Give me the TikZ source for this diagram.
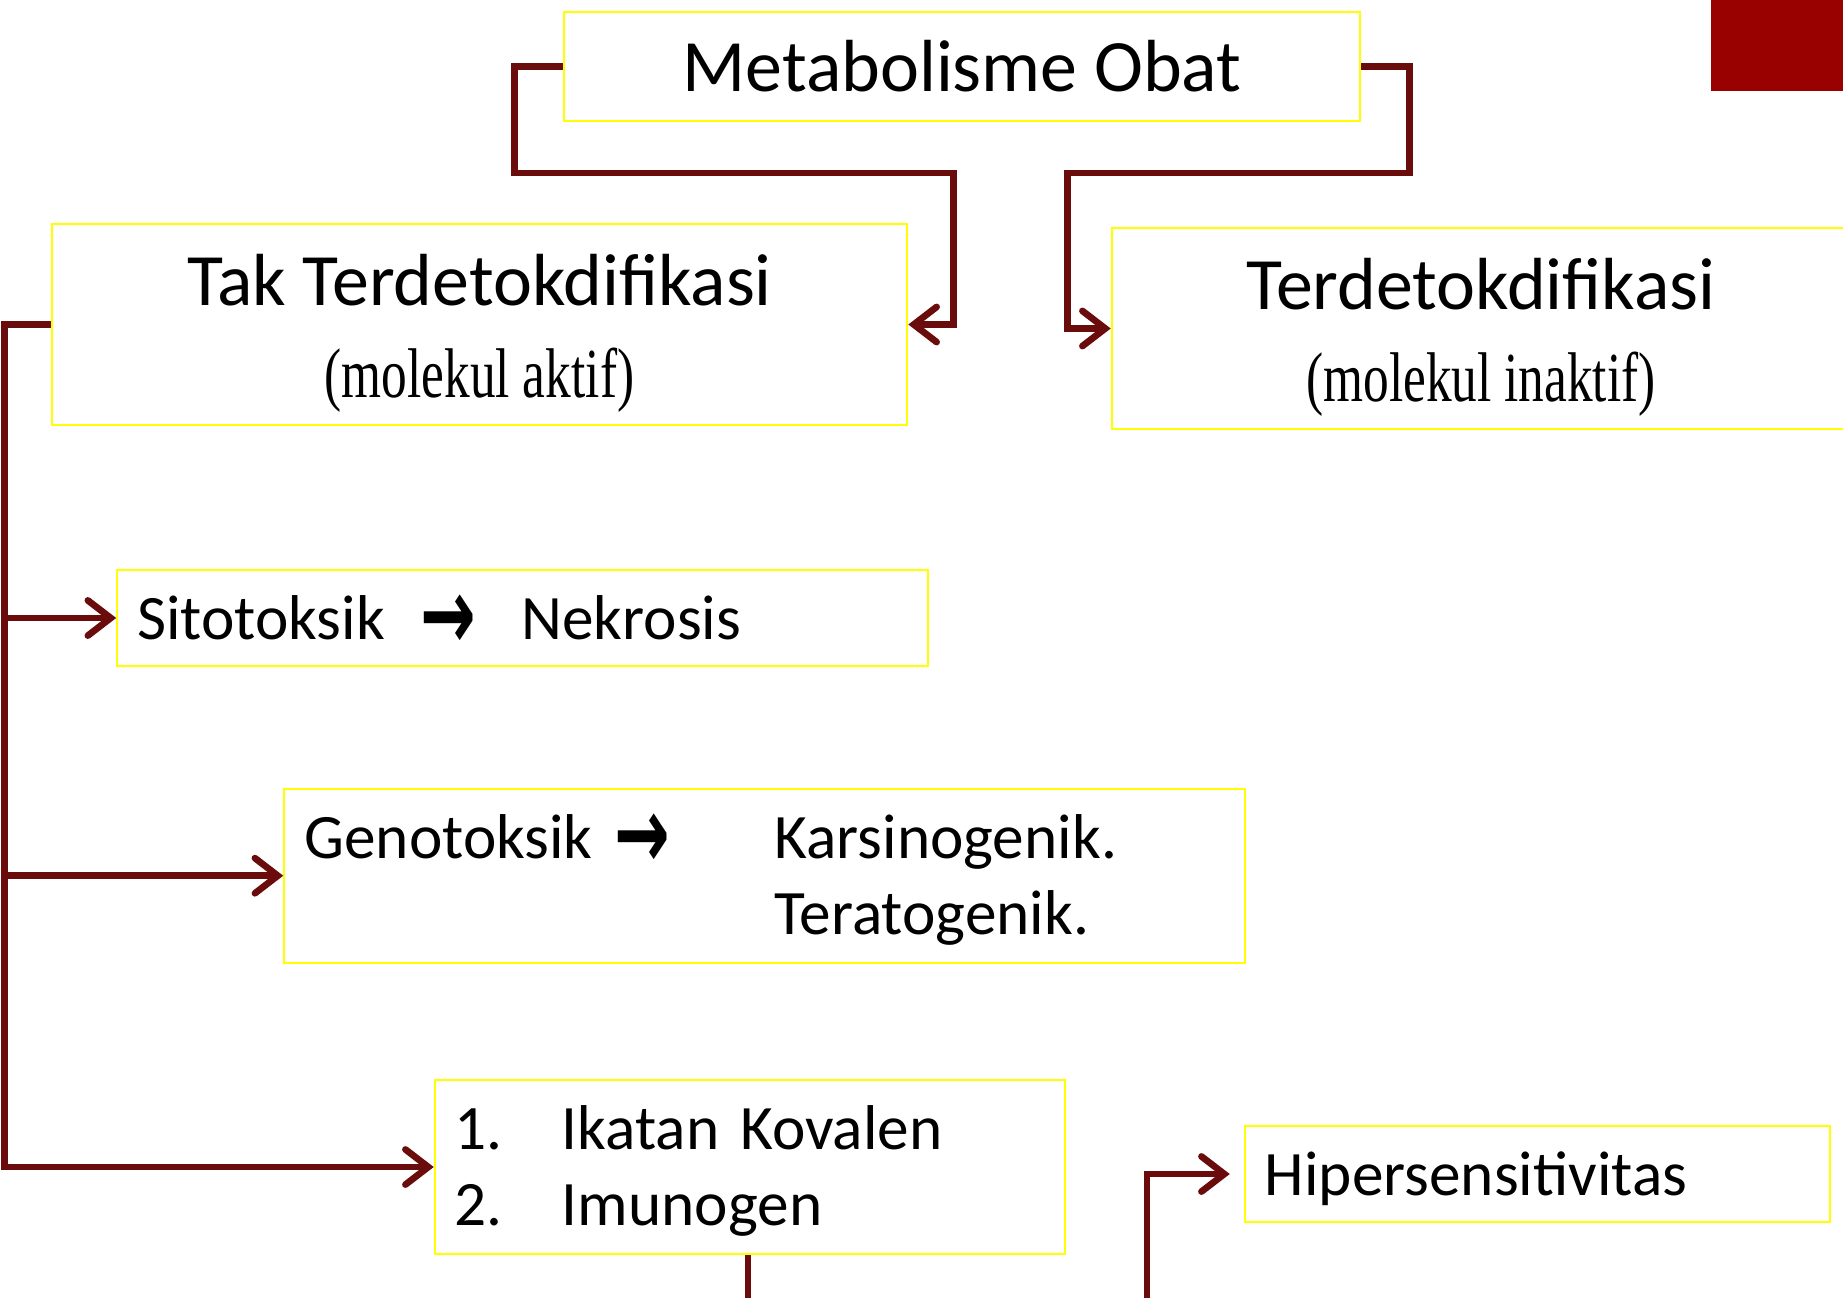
\documentclass[tikz,border=0pt]{standalone}
\usepackage{fontspec}
\usepackage{graphicx}
\setmainfont{Carlito}
\newfontfamily\condserif{Liberation Serif}
\newfontfamily\arrowfont{DejaVu Sans}
\usetikzlibrary{arrows.meta}
\usetikzlibrary{calc}
\definecolor{linkred}{RGB}{107,12,12}
\definecolor{cornerred}{RGB}{153,0,0}
\definecolor{boxyellow}{RGB}{255,255,0}
\newcommand{\subline}[1]{{\condserif\fontsize{20}{20}\selectfont\scalebox{0.73}[1]{#1}}}
\newcommand{\txtarrow}{{\arrowfont\bfseries\raisebox{-2.8pt}{\scalebox{1.05}[1.6]{→}}}}
% struts that set where a text block sits in its box
\newcommand{\tophold}[1]{\rule{0pt}{#1}}
\newcommand{\bothold}[1]{\rule[-#1]{0pt}{#1}}

\begin{document}
\begin{tikzpicture}[x=0.01cm,y=-0.01cm,
    box/.style={draw=boxyellow, line width=0.6pt, fill=white, inner sep=0pt},
    bigtext/.style={font=\fontsize{21}{26}\selectfont, align=center},
    listtext/.style={font=\fontsize{18}{21.6}\selectfont, align=left, inner xsep=0.2cm},
    link/.style={draw=linkred, line width=1.9pt},
    tip/.style={link, -{Straight Barb[length=6.5pt,width=10pt,line cap=round]}}]
        \newcommand{\figmetabspinedx}{46}
        \newcommand{\figmetabstubdx}{48}
        \newcommand{\figmetabdropdy}{106.5}
        \clip (0,0) rectangle (1843,1297);
        \fill[white] (0,0) rectangle (1843,1297);
        \fill[cornerred] (1711,0) rectangle (1843,91);
        % upper row
        \node[box, bigtext, minimum width=7.96cm, minimum height=1.09cm] (metab) at (962,66.5) {Metabolisme Obat};
        \node[box, bigtext, minimum width=8.55cm, minimum height=2.01cm] (tak) at (479.5,324.5) {\tophold{21.4pt}Tak Terdetokdifikasi\\ \subline{(molekul aktif)}\bothold{6pt}};
        \node[box, bigtext, minimum width=7.38cm, minimum height=2.01cm] (terd) at (1481,328.5) {\tophold{21.4pt}Terdetokdifikasi\\ \subline{(molekul inaktif)}\bothold{6pt}};
        % effects of the active molecule
        \node[box, listtext, minimum height=0.96cm, text width=7.7cm] (sito) at (522.5,618) {\tophold{17.4pt}\makebox[3.84cm][l]{Sitotoksik\hspace{0.35cm}\txtarrow}Nekrosis\bothold{5pt}};
        \node[box, listtext, minimum height=1.74cm, text width=9.2cm] (geno) at (764.6,875.7) {\tophold{17.8pt}\makebox[4.7cm][l]{Genotoksik\hspace{0.22cm}\txtarrow}Karsinogenik.\\ \hspace*{4.7cm}Teratogenik.\bothold{6pt}};
        \node[box, listtext, minimum height=1.74cm, text width=5.9cm] (ikatan) at (750,1167) {\tophold{17.8pt}\makebox[1.07cm][l]{1.}Ikatan Kovalen\\ \makebox[1.07cm][l]{2.}Imunogen\bothold{6pt}};
        \node[box, listtext, minimum height=0.96cm, text width=5.45cm] (hiper) at (1537.5,1174) {\tophold{17.4pt}Hipersensitivitas\bothold{5pt}};
        % connectors
        \draw[tip] (metab.west) -- ++(-\figmetabstubdx,0) |- ++(439,\figmetabdropdy) |- (tak.east);
        \draw[tip] (metab.east) -- ++(\figmetabstubdx,0) |- ++(-342,\figmetabdropdy) |- (terd.west);
        \coordinate (spine) at ($(tak.west)+(-\figmetabspinedx,0)$);
        \draw[tip] (tak.west) -- (spine) |- (ikatan.west);
        \draw[tip] (spine |- sito.west) -- (sito.west);
        \draw[tip] (spine |- geno.west) -- (geno.west);
        \coordinate (ikatanfoot) at (748,1310);
        \coordinate (hiperfoot) at (1147,1310);
        \draw[link] (ikatan.south -| ikatanfoot) -- (ikatanfoot);
        \draw[tip, shorten >=0.14cm] (hiperfoot) |- (hiper.west);
\end{tikzpicture}
\end{document}
